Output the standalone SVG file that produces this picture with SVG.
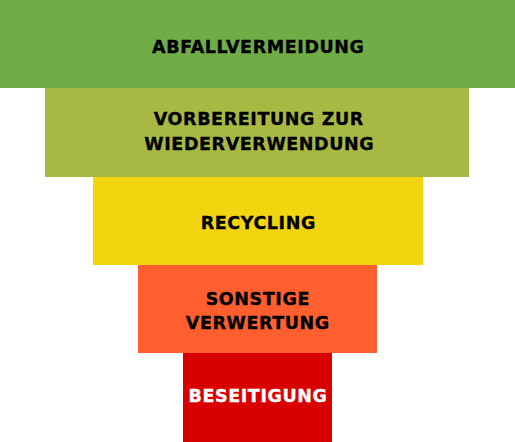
<svg xmlns="http://www.w3.org/2000/svg" width="515" height="442" viewBox="0 0 515 442">
<style>
.t{font-family:"DejaVu Sans",Verdana,sans-serif;font-weight:bold;font-size:17.5px;letter-spacing:0.6px;text-anchor:middle;fill:#000;stroke:#000;stroke-width:0.35px}
.w{fill:#fff;stroke:#fff}
</style>
<rect width="515" height="442" fill="#fff"/>
<g id="abfallvermeidung">
<rect x="0" y="0" width="515" height="88" fill="#70AD47"/>
<text class="t" x="258.3" y="52.5">ABFALLVERMEIDUNG</text>
</g>
<g id="vorbereitung">
<rect x="45" y="88" width="424" height="89" fill="#A8B943"/>
<text class="t" x="258.8" y="124.5">VORBEREITUNG ZUR</text>
<text class="t" x="259.3" y="149.5">WIEDERVERWENDUNG</text>
</g>
<g id="recycling">
<rect x="93" y="177" width="330" height="88" fill="#F2D50F"/>
<text class="t" x="258.3" y="229">RECYCLING</text>
</g>
<g id="verwertung">
<rect x="138" y="265" width="239" height="88" fill="#FF5F2F"/>
<text class="t" x="257.8" y="305">SONSTIGE</text>
<text class="t" x="257.8" y="329">VERWERTUNG</text>
</g>
<g id="beseitigung">
<rect x="183" y="353" width="149" height="89" fill="#D90000"/>
<text class="t w" x="258" y="402">BESEITIGUNG</text>
</g>
<g id="connectors"/>
</svg>
